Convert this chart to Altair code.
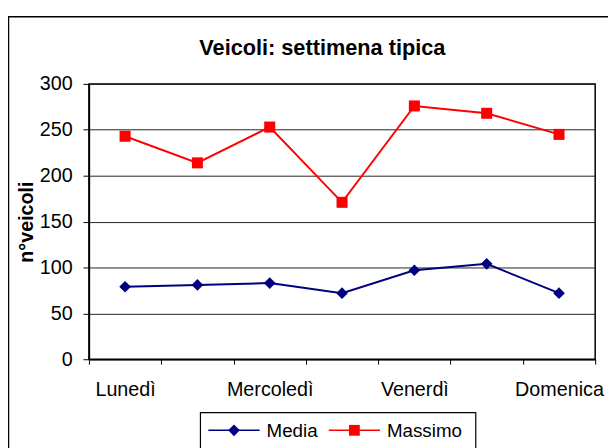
import json
import altair as alt
import pandas as pd

days = ["Lunedì", "Martedì", "Mercoledì", "Giovedì", "Venerdì", "Sabato", "Domenica"]
media = [79, 81, 83, 72, 97, 104, 72]
massimo = [243, 214, 253, 171, 276, 268, 245]
series_names = ["Media", "Massimo"]
series_colors = ["#000080", "#FF0000"]
series_shapes = ["diamond", "square"]
y_ticks = [0, 50, 100, 150, 200, 250, 300]
shown_labels = ["Lunedì", "Mercoledì", "Venerdì", "Domenica"]

rows = []
for d, v in zip(days, media):
    rows.append({"giorno": d, "serie": "Media", "valore": v})
for d, v in zip(days, massimo):
    rows.append({"giorno": d, "serie": "Massimo", "valore": v})
df = pd.DataFrame(rows)

FONT = "Liberation Sans"

x_enc = alt.X(
    "giorno:N",
    sort=days,
    scale=alt.Scale(type="band", domain=days, paddingInner=0, paddingOuter=0),
    axis=alt.Axis(
        title=None,
        labelAngle=0,
        tickBand="extent",
        grid=False,
        labelExpr="indexof(" + json.dumps(shown_labels, ensure_ascii=False) + ", datum.value) >= 0 ? datum.label : ''",
        labelFontSize=20,
        labelColor="black",
        labelPadding=16,
        labelOverlap=False,
        labelFlush=False,
        tickSize=5,
        tickColor="black",
        tickWidth=1,
        domainColor="black",
        domainWidth=1.5,
    ),
)
y_enc = alt.Y(
    "valore:Q",
    scale=alt.Scale(domain=[0, 300], nice=False, zero=True),
    axis=alt.Axis(
        values=y_ticks,
        title="n°veicoli",
        titleFontSize=20,
        titleFontWeight="bold",
        titleColor="black",
        titleAngle=270,
        titleX=-57,
        titleY=139.5,
        titleAlign="center",
        titleBaseline="alphabetic",
        labelFontSize=20,
        labelColor="black",
        labelPadding=11,
        tickSize=6,
        tickColor="black",
        domainColor="black",
        domainWidth=1.5,
        grid=True,
        gridColor="#222222",
        gridWidth=1,
    ),
)

color_scale = alt.Scale(domain=series_names, range=series_colors)
color_enc = alt.Color("serie:N", scale=color_scale, legend=None)

base = alt.Chart(df)

lines = base.mark_line(strokeWidth=2).encode(x=x_enc, y=y_enc, color=color_enc, detail="serie:N")
pts_media = base.transform_filter(alt.datum.serie == series_names[0]).mark_point(
    shape=series_shapes[0], filled=True, size=140, opacity=1
).encode(x=x_enc, y=y_enc, color=color_enc)
pts_max = base.transform_filter(alt.datum.serie == series_names[1]).mark_point(
    shape=series_shapes[1], filled=True, size=125, opacity=1
).encode(x=x_enc, y=y_enc, color=color_enc)

# outer chart frame (decoration)
frame = alt.Chart(pd.DataFrame({"k": [0]})).mark_rect(
    filled=False, stroke="black", strokeWidth=1.5
).encode(
    x=alt.value(-81.5), x2=alt.value(530), y=alt.value(-68), y2=alt.value(372)
)

# legend drawn as a small guide (box, line + marker, label per series)
legend_df = pd.DataFrame({"serie": series_names})
legend_base = alt.Chart(legend_df)
LEG_Y = 351
item_x = [121, 243]
legend_layers = [
    legend_base.transform_filter(alt.datum.serie == series_names[0]).mark_rect(
        fill="white", stroke="black", strokeWidth=1.2
    ).encode(x=alt.value(113), x2=alt.value(392), y=alt.value(333), y2=alt.value(380))
]
for i, name in enumerate(series_names):
    sub = legend_base.transform_filter(alt.datum.serie == name)
    legend_layers.append(
        sub.mark_rule(strokeWidth=1.5).encode(
            x=alt.value(item_x[i]), x2=alt.value(item_x[i] + 52), y=alt.value(LEG_Y), color=color_enc
        )
    )
    legend_layers.append(
        sub.mark_point(shape=series_shapes[i], filled=True, size=140 if i == 0 else 120, opacity=1).encode(
            x=alt.value(item_x[i] + 26), y=alt.value(LEG_Y), color=color_enc
        )
    )
    legend_layers.append(
        sub.mark_text(align="left", baseline="middle", fontSize=19, color="black").encode(
            x=alt.value(item_x[i] + 59), y=alt.value(LEG_Y + 1), text="serie:N"
        )
    )

chart = alt.layer(frame, lines, pts_media, pts_max, *legend_layers).properties(
    width=513,
    height=279,
    autosize=alt.AutoSizeParams(type="none"),
    padding={"left": 82, "top": 74, "right": 13, "bottom": 87},
    title=alt.TitleParams(
        "Veicoli: settimena tipica",
        fontSize=22,
        fontWeight="bold",
        color="black",
        anchor="middle",
        frame="group",
        dx=-20,
        offset=-61,
        baseline="alphabetic",
    ),
).configure(font=FONT).configure_view(stroke="black", strokeWidth=1.5)

chart.save("out.html", embed_options={"renderer": "svg", "actions": False})
